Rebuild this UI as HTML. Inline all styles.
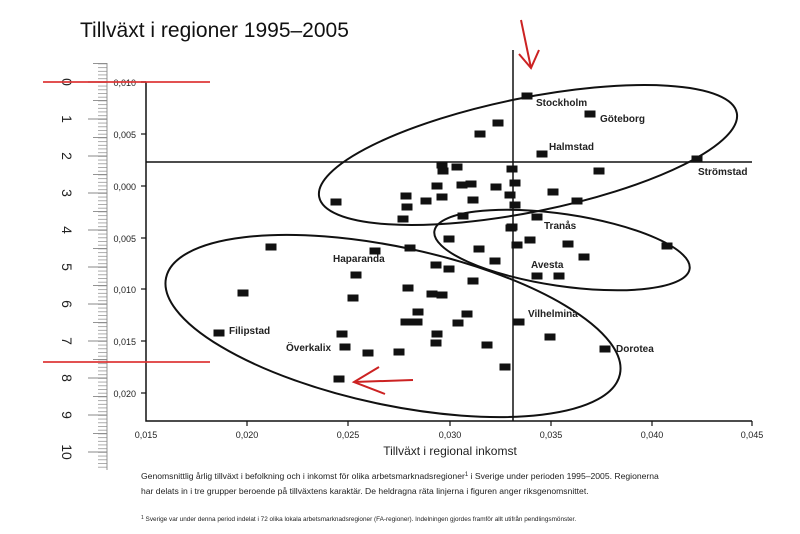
<!DOCTYPE html>
<html><head><meta charset="utf-8"><style>
html,body{margin:0;padding:0;background:#fff;}
svg{display:block;font-family:"Liberation Sans","DejaVu Sans",sans-serif;}
</style></head><body>
<svg width="800" height="534" viewBox="0 0 800 534" xmlns="http://www.w3.org/2000/svg">
<defs>
<pattern id="rt" x="0" y="82" width="20" height="3.7" patternUnits="userSpaceOnUse">
<line x1="0" y1="0.35" x2="20" y2="0.35" stroke="#888" stroke-width="0.7"/>
</pattern>
</defs>
<rect width="800" height="534" fill="#fff"/>
<text x="80" y="37" font-size="21" fill="#111">Tillväxt i regioner 1995–2005</text>

<!-- ruler -->
<rect x="98" y="63" width="9" height="407" fill="url(#rt)"/>
<line x1="107" y1="63" x2="107" y2="470" stroke="#888" stroke-width="0.9"/>
<g stroke="#888" stroke-width="0.9">
<line x1="88" y1="82" x2="107" y2="82"/><line x1="88" y1="119" x2="107" y2="119"/><line x1="88" y1="156" x2="107" y2="156"/><line x1="88" y1="193" x2="107" y2="193"/><line x1="88" y1="230" x2="107" y2="230"/><line x1="88" y1="267" x2="107" y2="267"/><line x1="88" y1="304" x2="107" y2="304"/><line x1="88" y1="341" x2="107" y2="341"/><line x1="88" y1="378" x2="107" y2="378"/><line x1="88" y1="415" x2="107" y2="415"/><line x1="88" y1="452" x2="107" y2="452"/>
<line x1="93" y1="63.5" x2="107" y2="63.5"/><line x1="93" y1="100.5" x2="107" y2="100.5"/><line x1="93" y1="137.5" x2="107" y2="137.5"/><line x1="93" y1="174.5" x2="107" y2="174.5"/><line x1="93" y1="211.5" x2="107" y2="211.5"/><line x1="93" y1="248.5" x2="107" y2="248.5"/><line x1="93" y1="285.5" x2="107" y2="285.5"/><line x1="93" y1="322.5" x2="107" y2="322.5"/><line x1="93" y1="359.5" x2="107" y2="359.5"/><line x1="93" y1="396.5" x2="107" y2="396.5"/><line x1="93" y1="433.5" x2="107" y2="433.5"/>
</g>
<g font-size="14" fill="#222">
<text transform="translate(62,82) rotate(90)" text-anchor="middle">0</text>
<text transform="translate(62,119) rotate(90)" text-anchor="middle">1</text>
<text transform="translate(62,156) rotate(90)" text-anchor="middle">2</text>
<text transform="translate(62,193) rotate(90)" text-anchor="middle">3</text>
<text transform="translate(62,230) rotate(90)" text-anchor="middle">4</text>
<text transform="translate(62,267) rotate(90)" text-anchor="middle">5</text>
<text transform="translate(62,304) rotate(90)" text-anchor="middle">6</text>
<text transform="translate(62,341) rotate(90)" text-anchor="middle">7</text>
<text transform="translate(62,378) rotate(90)" text-anchor="middle">8</text>
<text transform="translate(62,415) rotate(90)" text-anchor="middle">9</text>
<text transform="translate(62,452) rotate(90)" text-anchor="middle">10</text>
</g>

<!-- axes -->
<g stroke="#111" stroke-width="1.5" fill="none">
<polyline points="146,82 146,421 752,421"/>
<line x1="146" y1="162" x2="752" y2="162"/>
<line x1="513" y1="50" x2="513" y2="421"/>
</g>
<g stroke="#111" stroke-width="1.2">
<line x1="141" y1="82" x2="146" y2="82"/><line x1="141" y1="134" x2="146" y2="134"/><line x1="141" y1="186" x2="146" y2="186"/><line x1="141" y1="238" x2="146" y2="238"/><line x1="141" y1="289" x2="146" y2="289"/><line x1="141" y1="341" x2="146" y2="341"/><line x1="141" y1="393" x2="146" y2="393"/>
<line x1="247" y1="421" x2="247" y2="426"/><line x1="348" y1="421" x2="348" y2="426"/><line x1="450" y1="421" x2="450" y2="426"/><line x1="551" y1="421" x2="551" y2="426"/><line x1="652" y1="421" x2="652" y2="426"/><line x1="752" y1="421" x2="752" y2="426"/>
</g>
<g font-size="9" fill="#222" text-anchor="end">
<text x="136" y="86">0,010</text><text x="136" y="138">0,005</text><text x="136" y="190">0,000</text><text x="136" y="242">0,005</text><text x="136" y="293">0,010</text><text x="136" y="345">0,015</text><text x="136" y="397">0,020</text>
</g>
<g font-size="9" fill="#222" text-anchor="middle">
<text x="146" y="438">0,015</text><text x="247" y="438">0,020</text><text x="348" y="438">0,025</text><text x="450" y="438">0,030</text><text x="551" y="438">0,035</text><text x="652" y="438">0,040</text><text x="752" y="438">0,045</text>
</g>
<text x="450" y="455" font-size="12" fill="#222" text-anchor="middle">Tillväxt i regional inkomst</text>

<!-- ellipses -->
<g fill="none" stroke="#111" stroke-width="2">
<ellipse cx="528" cy="155" rx="213" ry="57" transform="rotate(-11.4 528 155)"/>
<ellipse cx="562" cy="250" rx="129" ry="36" transform="rotate(8.4 562 250)"/>
<ellipse cx="393" cy="326" rx="232" ry="79" transform="rotate(12 393 326)"/>
</g>

<!-- points -->
<g fill="#111">
<rect x="521.5" y="92.5" width="11" height="7"/><rect x="584.5" y="110.5" width="11" height="7"/><rect x="492.5" y="119.5" width="11" height="7"/><rect x="474.5" y="130.5" width="11" height="7"/><rect x="536.5" y="150.5" width="11" height="7"/><rect x="691.5" y="155.5" width="11" height="7"/><rect x="436.5" y="161.5" width="11" height="7"/><rect x="451.5" y="163.5" width="11" height="7"/><rect x="437.5" y="167.5" width="11" height="7"/><rect x="506.5" y="165.5" width="11" height="7"/><rect x="593.5" y="167.5" width="11" height="7"/><rect x="431.5" y="182.5" width="11" height="7"/><rect x="456.5" y="181.5" width="11" height="7"/><rect x="465.5" y="180.5" width="11" height="7"/><rect x="490.5" y="183.5" width="11" height="7"/><rect x="509.5" y="179.5" width="11" height="7"/><rect x="330.5" y="198.5" width="11" height="7"/><rect x="400.5" y="192.5" width="11" height="7"/><rect x="401.5" y="203.5" width="11" height="7"/><rect x="420.5" y="197.5" width="11" height="7"/><rect x="436.5" y="193.5" width="11" height="7"/><rect x="467.5" y="196.5" width="11" height="7"/><rect x="504.5" y="191.5" width="11" height="7"/><rect x="509.5" y="201.5" width="11" height="7"/><rect x="547.5" y="188.5" width="11" height="7"/><rect x="571.5" y="197.5" width="11" height="7"/><rect x="397.5" y="215.5" width="11" height="7"/><rect x="457.5" y="212.5" width="11" height="7"/><rect x="531.5" y="213.5" width="11" height="7"/><rect x="505.5" y="224.5" width="11" height="7"/><rect x="443.5" y="235.5" width="11" height="7"/><rect x="524.5" y="236.5" width="11" height="7"/><rect x="511.5" y="241.5" width="11" height="7"/><rect x="473.5" y="245.5" width="11" height="7"/><rect x="562.5" y="240.5" width="11" height="7"/><rect x="661.5" y="242.5" width="11" height="7"/><rect x="404.5" y="244.5" width="11" height="7"/><rect x="369.5" y="247.5" width="11" height="7"/><rect x="578.5" y="253.5" width="11" height="7"/><rect x="489.5" y="257.5" width="11" height="7"/><rect x="430.5" y="261.5" width="11" height="7"/><rect x="443.5" y="265.5" width="11" height="7"/><rect x="531.5" y="272.5" width="11" height="7"/><rect x="553.5" y="272.5" width="11" height="7"/><rect x="467.5" y="277.5" width="11" height="7"/><rect x="350.5" y="271.5" width="11" height="7"/><rect x="402.5" y="284.5" width="11" height="7"/><rect x="426.5" y="290.5" width="11" height="7"/><rect x="436.5" y="291.5" width="11" height="7"/><rect x="347.5" y="294.5" width="11" height="7"/><rect x="265.5" y="243.5" width="11" height="7"/><rect x="506.5" y="223.5" width="11" height="7"/><rect x="237.5" y="289.5" width="11" height="7"/><rect x="412.5" y="308.5" width="11" height="7"/><rect x="400.5" y="318.5" width="11" height="7"/><rect x="411.5" y="318.5" width="11" height="7"/><rect x="461.5" y="310.5" width="11" height="7"/><rect x="452.5" y="319.5" width="11" height="7"/><rect x="513.5" y="318.5" width="11" height="7"/><rect x="213.5" y="329.5" width="11" height="7"/><rect x="336.5" y="330.5" width="11" height="7"/><rect x="431.5" y="330.5" width="11" height="7"/><rect x="430.5" y="339.5" width="11" height="7"/><rect x="481.5" y="341.5" width="11" height="7"/><rect x="544.5" y="333.5" width="11" height="7"/><rect x="599.5" y="345.5" width="11" height="7"/><rect x="339.5" y="343.5" width="11" height="7"/><rect x="362.5" y="349.5" width="11" height="7"/><rect x="393.5" y="348.5" width="11" height="7"/><rect x="499.5" y="363.5" width="11" height="7"/><rect x="333.5" y="375.5" width="11" height="7"/>
</g>

<g font-size="10" fill="#222" font-weight="bold">
<text x="536" y="106">Stockholm</text>
<text x="600" y="122">Göteborg</text>
<text x="549" y="150">Halmstad</text>
<text x="698" y="175">Strömstad</text>
<text x="544" y="229">Tranås</text>
<text x="531" y="268">Avesta</text>
<text x="333" y="262">Haparanda</text>
<text x="528" y="317">Vilhelmina</text>
<text x="229" y="334">Filipstad</text>
<text x="286" y="351">Överkalix</text>
<text x="616" y="352">Dorotea</text>
</g>

<!-- red -->
<g stroke="#d33" stroke-width="2" fill="none" opacity="0.85">
<line x1="43" y1="82" x2="210" y2="82"/>
<line x1="43" y1="362" x2="210" y2="362"/>
</g>
<g stroke="#c22" stroke-width="2" fill="none">
<line x1="521" y1="20" x2="531" y2="68"/>
<polyline points="519,54 531,68 539,50"/>
<line x1="413" y1="380" x2="354" y2="382"/>
<polyline points="379,367 354,382 385,394"/>
</g>

<text x="141" y="479" font-size="8.6" fill="#222">Genomsnittlig årlig tillväxt i befolkning och i inkomst för olika arbetsmarknadsregioner<tspan font-size="6" dy="-3">1</tspan><tspan dy="3"> i Sverige under perioden 1995–2005. Regionerna</tspan></text>
<text x="141" y="494" font-size="8.6" fill="#222">har delats in i tre grupper beroende på tillväxtens karaktär. De heldragna räta linjerna i figuren anger riksgenomsnittet.</text>
<text x="141" y="521" font-size="6.4" fill="#222"><tspan font-size="5" dy="-2">1</tspan><tspan dy="2"> Sverige var under denna period indelat i 72 olika lokala arbetsmarknadsregioner (FA-regioner). Indelningen gjordes framför allt utifrån pendlingsmönster.</tspan></text>
</svg>
</body></html>
